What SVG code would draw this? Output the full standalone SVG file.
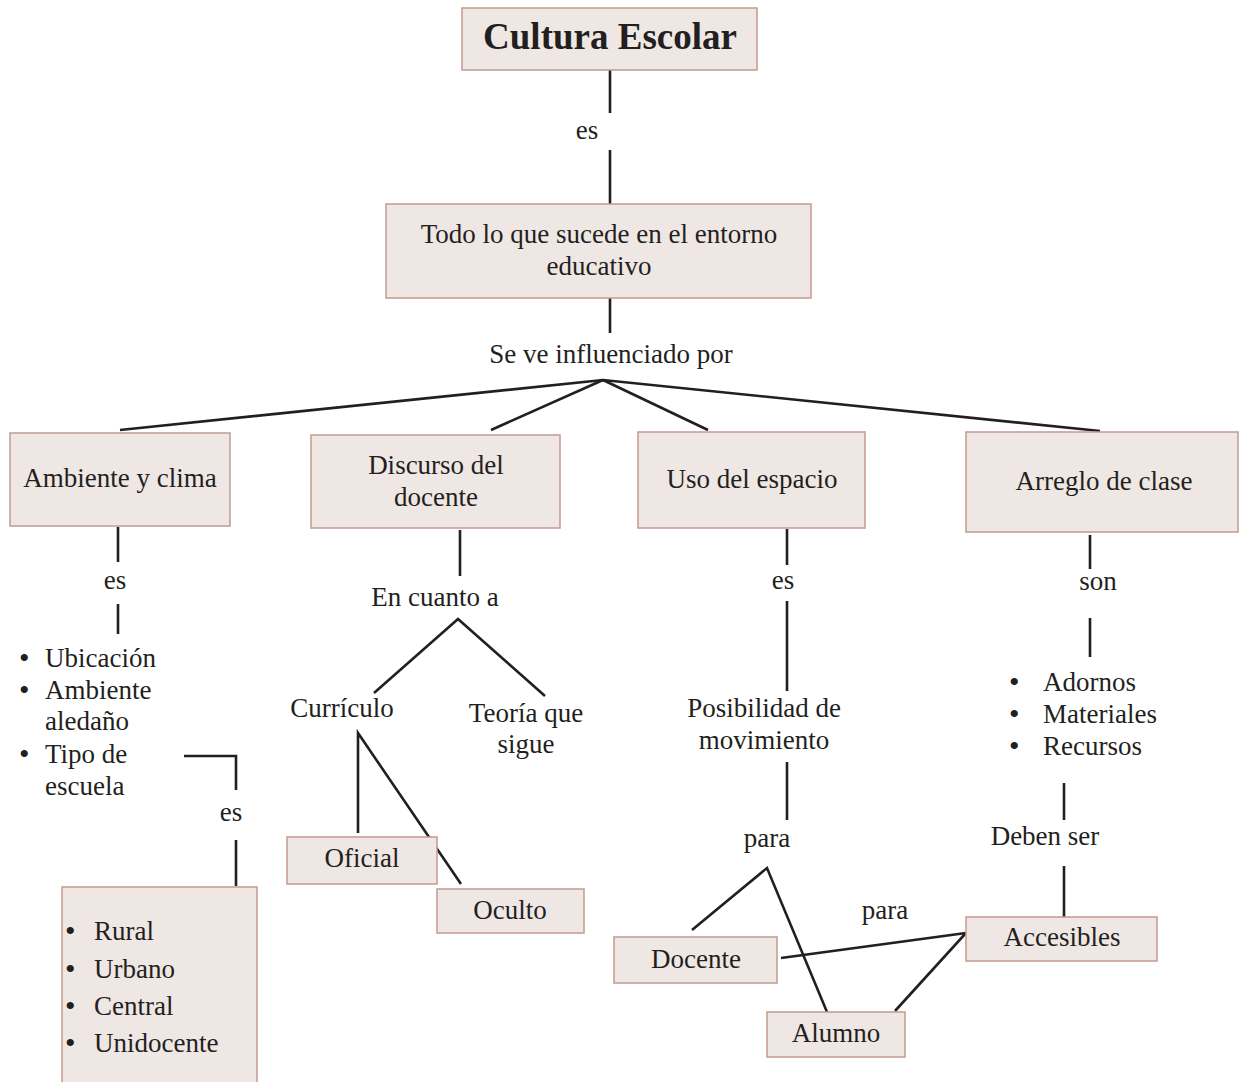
<svg xmlns="http://www.w3.org/2000/svg" width="1239" height="1082" viewBox="0 0 1239 1082">
  <style>
    .box { fill: #efe7e4; stroke: #c39a90; stroke-width: 1.5; }
    .t { font-family: "Liberation Serif", "Times New Roman", serif; font-size: 27px; fill: #231f20; }
    .c { text-anchor: middle; }
    .title { font-weight: bold; font-size: 37px; }
    .b { font-size: 30px; }
    .ln { stroke: #231f20; stroke-width: 2.6; fill: none; }
  </style>
  <rect width="1239" height="1082" fill="#ffffff"/>

  <!-- connectors and relation labels -->
  <g id="connectors">
    <line class="ln" x1="610" y1="70" x2="610" y2="113"/>
    <text class="t c" x="587" y="139">es</text>
    <line class="ln" x1="610" y1="150" x2="610" y2="204"/>
    <line class="ln" x1="610" y1="298" x2="610" y2="333"/>
    <text class="t c" x="611" y="363">Se ve influenciado por</text>
    <polyline class="ln" points="120,430 603,380 1100,431"/>
    <line class="ln" x1="491" y1="430" x2="603" y2="380"/>
    <line class="ln" x1="708" y1="430" x2="603" y2="380"/>

    <!-- Ambiente y clima -->
    <line class="ln" x1="118" y1="527" x2="118" y2="562"/>
    <text class="t c" x="115" y="589">es</text>
    <line class="ln" x1="118" y1="604" x2="118" y2="634"/>
    <polyline class="ln" points="184,756 236,756 236,790"/>
    <text class="t c" x="231" y="821">es</text>
    <line class="ln" x1="236" y1="840" x2="236" y2="886"/>

    <!-- Discurso del docente -->
    <line class="ln" x1="460" y1="530" x2="460" y2="576"/>
    <text class="t c" x="435" y="606">En cuanto a</text>
    <polyline class="ln" points="374,693 458,619 545,696"/>
    <polyline class="ln" points="358,833 358,733 461,884"/>

    <!-- Uso del espacio -->
    <line class="ln" x1="787" y1="529" x2="787" y2="565"/>
    <text class="t c" x="783" y="589">es</text>
    <line class="ln" x1="787" y1="601" x2="787" y2="691"/>
    <line class="ln" x1="787" y1="762" x2="787" y2="820"/>
    <text class="t c" x="767" y="847">para</text>
    <polyline class="ln" points="692,930 767,868 827,1012"/>

    <!-- Arreglo de clase -->
    <line class="ln" x1="1090" y1="535" x2="1090" y2="569"/>
    <text class="t c" x="1098" y="590">son</text>
    <line class="ln" x1="1090" y1="618" x2="1090" y2="657"/>
    <line class="ln" x1="1064" y1="783" x2="1064" y2="820"/>
    <text class="t c" x="1045" y="845">Deben ser</text>
    <line class="ln" x1="1064" y1="866" x2="1064" y2="917"/>

    <!-- para: Docente / Alumno to Accesibles -->
    <polyline class="ln" points="781,958 966,933 895,1011"/>
    <text class="t c" x="885" y="919">para</text>
  </g>

  <g id="cultura-escolar">
    <rect class="box" x="462" y="8" width="295" height="62"/>
    <text class="t c title" x="610" y="49">Cultura Escolar</text>
  </g>

  <g id="todo-lo-que-sucede">
    <rect class="box" x="386" y="204" width="425" height="94"/>
    <text class="t c" x="599" y="243">Todo lo que sucede en el entorno</text>
    <text class="t c" x="599" y="275">educativo</text>
  </g>

  <g id="ambiente-y-clima">
    <rect class="box" x="10" y="433" width="220" height="93"/>
    <text class="t c" x="120" y="487">Ambiente y clima</text>
  </g>

  <g id="discurso-del-docente">
    <rect class="box" x="311" y="435" width="249" height="93"/>
    <text class="t c" x="436" y="474">Discurso del</text>
    <text class="t c" x="436" y="506">docente</text>
  </g>

  <g id="uso-del-espacio">
    <rect class="box" x="638" y="432" width="227" height="96"/>
    <text class="t c" x="752" y="488">Uso del espacio</text>
  </g>

  <g id="arreglo-de-clase">
    <rect class="box" x="966" y="432" width="272" height="100"/>
    <text class="t c" x="1104" y="490">Arreglo de clase</text>
  </g>

  <g id="ambiente-lista">
    <text class="t b" x="19" y="668">•</text><text class="t" x="45" y="667">Ubicación</text>
    <text class="t b" x="19" y="700">•</text><text class="t" x="45" y="699">Ambiente</text>
    <text class="t" x="45" y="730">aledaño</text>
    <text class="t b" x="19" y="764">•</text><text class="t" x="45" y="763">Tipo de</text>
    <text class="t" x="45" y="795">escuela</text>
  </g>

  <g id="tipos-de-escuela">
    <rect class="box" x="62" y="887" width="195" height="200"/>
    <text class="t b" x="65" y="941">•</text><text class="t" x="94" y="940">Rural</text>
    <text class="t b" x="65" y="979">•</text><text class="t" x="94" y="978">Urbano</text>
    <text class="t b" x="65" y="1016">•</text><text class="t" x="94" y="1015">Central</text>
    <text class="t b" x="65" y="1053">•</text><text class="t" x="94" y="1052">Unidocente</text>
  </g>

  <g id="curriculo">
    <text class="t c" x="342" y="717">Currículo</text>
  </g>

  <g id="teoria-que-sigue">
    <text class="t c" x="526" y="722">Teoría que</text>
    <text class="t c" x="526" y="753">sigue</text>
  </g>

  <g id="oficial">
    <rect class="box" x="287" y="837" width="150" height="47"/>
    <text class="t c" x="362" y="867">Oficial</text>
  </g>

  <g id="oculto">
    <rect class="box" x="437" y="889" width="147" height="44"/>
    <text class="t c" x="510" y="919">Oculto</text>
  </g>

  <g id="posibilidad-de-movimiento">
    <text class="t c" x="764" y="717">Posibilidad de</text>
    <text class="t c" x="764" y="749">movimiento</text>
  </g>

  <g id="arreglo-lista">
    <text class="t b" x="1009" y="692">•</text><text class="t" x="1043" y="691">Adornos</text>
    <text class="t b" x="1009" y="724">•</text><text class="t" x="1043" y="723">Materiales</text>
    <text class="t b" x="1009" y="756">•</text><text class="t" x="1043" y="755">Recursos</text>
  </g>

  <g id="docente">
    <rect class="box" x="614" y="937" width="163" height="46"/>
    <text class="t c" x="696" y="968">Docente</text>
  </g>

  <g id="alumno">
    <rect class="box" x="767" y="1012" width="138" height="45"/>
    <text class="t c" x="836" y="1042">Alumno</text>
  </g>

  <g id="accesibles">
    <rect class="box" x="966" y="917" width="191" height="44"/>
    <text class="t c" x="1062" y="946">Accesibles</text>
  </g>
</svg>
